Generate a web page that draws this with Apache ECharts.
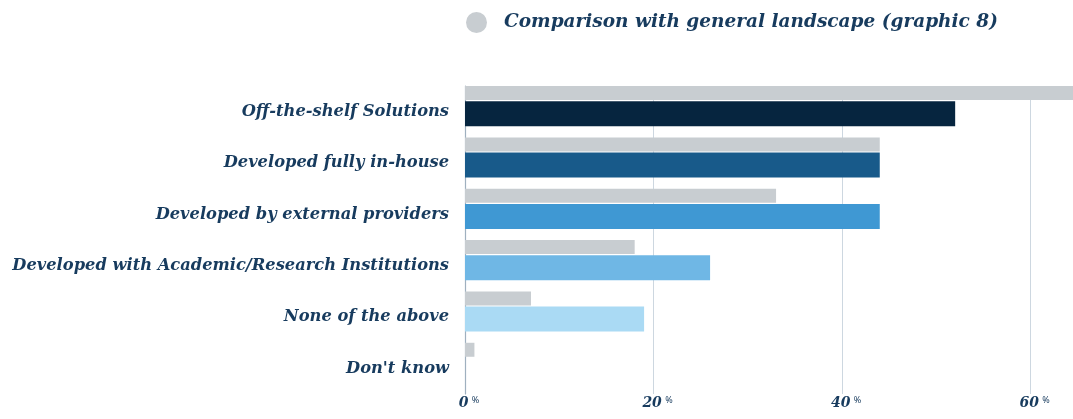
<!DOCTYPE html>
<html>
<head>
<meta charset="utf-8">
<script src="https://cdn.jsdelivr.net/npm/echarts@6/dist/echarts.min.js"></script>
<style>
  html, body { margin: 0; padding: 0; background: #ffffff; }
  #chart { width: 1073px; height: 419px; }
</style>
</head>
<body>
<div id="chart"></div>
<script>
// Categories, top to bottom
const categories = [
  'Off-the-shelf Solutions',
  'Developed fully in-house',
  'Developed by external providers',
  'Developed with Academic/Research Institutions',
  'None of the above',
  "Don't know"
];
// Share of respondents (%)
const surveyValues = [52, 44, 44, 26, 19, 0];
const landscapeValues = [65, 44, 33, 18, 7, 1];
const barColors = ['#06253f', '#185a8a', '#3f98d3', '#6fb7e5', '#aadaf4', '#cfe9f8'];
const xTicks = [0, 20, 40, 60];
const legendLabel = 'Comparison with general landscape (graphic 8)';

const textColor = '#173b5e';
const fontFamily = '"DejaVu Serif", serif';

const chart = echarts.init(document.getElementById('chart'), null, { renderer: 'canvas' });
chart.setOption({
  animation: false,
  backgroundColor: '#ffffff',
  legend: {
    data: [legendLabel],
    left: 466,
    top: 12,
    padding: 0,
    icon: 'circle',
    itemWidth: 21,
    itemHeight: 21,
    textStyle: {
      color: textColor,
      fontFamily: fontFamily,
      fontStyle: 'italic',
      fontWeight: 'bold',
      fontSize: 18.5,
      padding: [0, 0, 0, 12]
    }
  },
  grid: { left: 465, right: 0, top: 86, bottom: 25 },
  xAxis: {
    type: 'value',
    min: 0,
    max: 64.5,
    interval: 20,
    axisLine: { show: false },
    axisTick: { show: false },
    splitLine: { show: true, showMaxLine: false, lineStyle: { color: '#cdd7e0', width: 1 } },
    axisLabel: {
      margin: 2,
      showMaxLabel: false,
      padding: [0, 0, 0, 8],
      formatter: function (v) {
        return xTicks.indexOf(v) >= 0 ? '{v|' + v + '} {p|%}' : '';
      },
      rich: {
        v: { color: textColor, fontFamily: fontFamily, fontStyle: 'italic', fontWeight: 'bold', fontSize: 14 },
        p: { color: textColor, fontFamily: '"Noto Sans", sans-serif', fontSize: 9, padding: [0, 0, 5, 0] }
      }
    }
  },
  yAxis: {
    type: 'category',
    data: categories,
    inverse: true,
    axisLine: { show: true, onZero: false, lineStyle: { color: '#9fb0bf', width: 1.2 } },
    axisTick: { show: false },
    axisLabel: {
      margin: 16,
      color: textColor,
      fontFamily: fontFamily,
      fontStyle: 'italic',
      fontWeight: 'bold',
      fontSize: 16.3
    }
  },
  series: [
    {
      name: legendLabel,
      type: 'bar',
      data: landscapeValues,
      barWidth: 14,
      barGap: '8%',
      itemStyle: { color: '#c8cdd1' }
    },
    {
      name: 'Survey',
      type: 'bar',
      data: surveyValues.map(function (v, i) {
        return { value: v, itemStyle: { color: barColors[i] } };
      }),
      barWidth: 25
    },
    {
      // empty slot below each pair, keeps the pair near the top of its band
      name: 'spacer',
      type: 'bar',
      data: categories.map(function () { return '-'; }),
      barWidth: 9,
      silent: true
    }
  ]
});
</script>
</body>
</html>
